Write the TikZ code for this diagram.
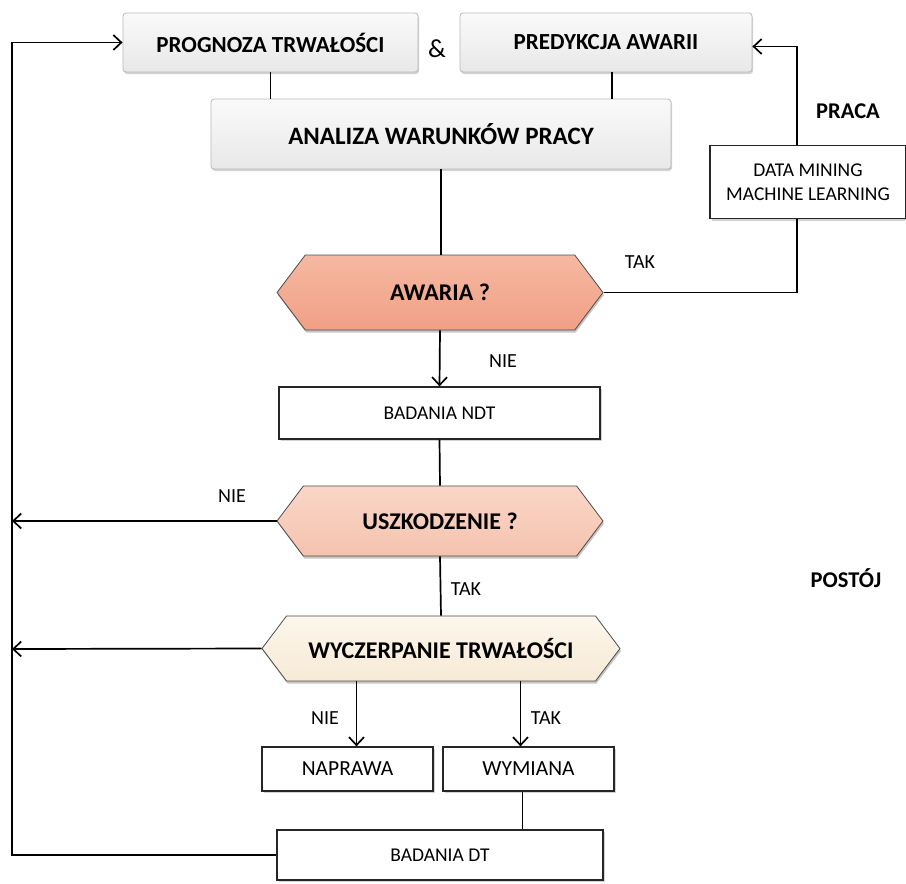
\documentclass[tikz,border=0pt]{standalone}
\usepackage{fontspec}
\setmainfont{Carlito}
\usetikzlibrary{arrows.meta,shadows,shapes.symbols}
\definecolor{awc}{HTML}{F0A085}
\definecolor{awcT}{HTML}{F6B8A2}
\definecolor{usc}{HTML}{F5C3AF}
\definecolor{uscT}{HTML}{FAD6C8}
\definecolor{wyc}{HTML}{F7EAD6}
\definecolor{wycT}{HTML}{FDF6EC}
\tikzset{
  topbox/.style={rectangle, rounded corners=3pt, draw=gray!55, line width=0.8pt,
    top color=gray!4, bottom color=gray!18, font=\fontsize{23}{26}\selectfont\bfseries,
    drop shadow={opacity=0.35, shadow xshift=1pt, shadow yshift=-2pt}},
  plainbox/.style={rectangle, draw=black!85, line width=1.3pt, fill=white,
    font=\fontsize{19.5}{22}\selectfont,
    drop shadow={opacity=0.35, shadow xshift=2pt, shadow yshift=-2pt}},
  hexa/.style={shape=signal, signal to=west and east, signal pointer angle=106,
    draw=black!70, line width=0.8pt, inner sep=0pt,
    font=\fontsize{24}{27}\selectfont\bfseries,
    drop shadow={opacity=0.45, shadow xshift=1pt, shadow yshift=-2.5pt}},
  lbl/.style={font=\fontsize{20}{23}\selectfont},
  blbl/.style={font=\fontsize{22.5}{26}\selectfont\bfseries},
  ln/.style={line width=1.7pt},
  arr/.style={line width=1.7pt, -{Straight Barb[length=8pt,width=15pt,line width=1.7pt]}}
}
\begin{document}
\begin{tikzpicture}[x=1pt,y=-1pt]
\useasboundingbox (0,0) rectangle (906,884);
% top boxes
\node[topbox, minimum width=295pt, minimum height=59pt] (prog) at (270.5,42.5) {PROGNOZA TRWAŁOŚCI};
\node[topbox, minimum width=292pt, minimum height=59pt] (pred) at (606,42.5) {PREDYKCJA AWARII};
\node[font=\fontsize{26}{30}\selectfont] (amp) at (437,49) {\&};
\node[topbox, minimum width=460pt, minimum height=70pt, font=\fontsize{25}{28}\selectfont\bfseries] (anal) at (441,134) {ANALIZA WARUNKÓW PRACY};
% data mining
\node[plainbox, minimum width=196pt, minimum height=73pt, align=center, font=\fontsize{19.5}{24}\selectfont] (dm) at (808,182) {DATA MINING\\MACHINE LEARNING};
% decisions
\node[hexa, top color=awcT, bottom color=awc, minimum width=326pt, minimum height=75pt] (aw) at (440,292.5) {AWARIA ?};
\node[plainbox, minimum width=321pt, minimum height=52pt] (ndt) at (439.5,413) {BADANIA NDT};
\node[hexa, top color=uscT, bottom color=usc, minimum width=326pt, minimum height=70pt] (usz) at (440,521) {USZKODZENIE ?};
\node[hexa, top color=wycT, bottom color=wyc, minimum width=358pt, minimum height=65pt] (wyc) at (441,648.5) {WYCZERPANIE TRWAŁOŚCI};
\node[plainbox, minimum width=171pt, minimum height=44pt, font=\fontsize{21.5}{24}\selectfont] (nap) at (347.5,769) {NAPRAWA};
\node[plainbox, minimum width=171pt, minimum height=44pt, font=\fontsize{21.5}{24}\selectfont] (wym) at (528.5,769) {WYMIANA};
\node[plainbox, minimum width=326pt, minimum height=50pt] (dt) at (440,855) {BADANIA DT};
% labels
\node[lbl] (t1) at (640,262) {TAK};
\node[lbl] (n1) at (503,361) {NIE};
\node[lbl] (n2) at (232,496) {NIE};
\node[lbl] (t2) at (466,589) {TAK};
\node[lbl] (n3) at (325,718) {NIE};
\node[lbl] (t3) at (546,718) {TAK};
\node[blbl] (praca) at (848,111) {PRACA};
\node[blbl] (postoj) at (846,578) {POSTÓJ};
% coordinates on the left rail
\coordinate (L1) at (12,521);
\coordinate (L2) at (12,649);
\coordinate (LB) at (12,855);
\coordinate (LT) at (12,42.5);
% connectors
\draw[ln] (prog.south) -- (prog.south |- anal.north);
\draw[ln] ([xshift=6pt]pred.south) -- ([xshift=6pt]pred.south |- anal.north);
\draw[ln] (anal.south) -- (anal.south |- aw.north);
\draw[ln] (aw.east) -| ([xshift=-11pt]dm.south);
\draw[arr] ([xshift=-11pt]dm.north) |- ([yshift=-4pt]pred.east);
\draw[arr] (aw.south) -- (ndt.north);
\draw[ln] (ndt.south) -- (usz.north);
\draw[arr] (usz.west) -- (L1);
\draw[ln] (usz.south) -- (wyc.north);
\draw[arr] (wyc.west) -- (L2);
\draw[arr] ([xshift=9pt]nap.north |- wyc.south) -- ([xshift=9pt]nap.north);
\draw[arr] ([xshift=-8pt]wym.north |- wyc.south) -- ([xshift=-8pt]wym.north);
\draw[ln] ([xshift=-6pt]wym.south) -- ([xshift=-6pt]wym.south |- dt.north);
\draw[arr, line join=miter] (dt.west) -- (LB) -- (LT) -- (prog.west);
\end{tikzpicture}
\end{document}
